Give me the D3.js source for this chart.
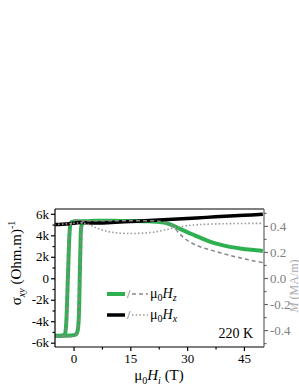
<html lang="en">
<head>
<meta charset="UTF-8">
<script src="https://d3js.org/d3.v7.min.js"></script>
<title>sigma xy</title>
<style>
  body { margin: 0; background: #fff; }
  text { font-family: "Liberation Serif", "DejaVu Serif", serif; }
  .axis text { font-size: 13px; }
</style>
<script>
// green: sigma_xy for mu0 Hz, ascending and descending branches (k Ohm^-1 m^-1)
var hzUpField = [-5, -1, 0.5, 0.9, 1.2, 1.4, 1.8, 2.1, 2.5, 3.5, 6, 10, 15, 20, 22, 24, 26, 28, 30, 32, 34, 36, 38, 41, 44, 47, 50];
var hzUpSigma = [-5.35, -5.33, -5.25, -5.1, -4.6, -3.5, 2.5, 4.9, 5.2, 5.3, 5.35, 5.35, 5.33, 5.3, 5.27, 5.18, 4.95, 4.62, 4.3, 4.0, 3.7, 3.42, 3.2, 2.95, 2.78, 2.65, 2.55];
var hzDownField = [3.5, 1, 0, -0.7, -1.0, -1.5, -2.0, -2.3, -2.8, -5];
var hzDownSigma = [5.3, 5.3, 5.28, 5.2, 4.5, 0, -4.5, -5.2, -5.33, -5.35];

// black: sigma_xy for mu0 Hx
var hxField = [-5, -3, -1, 0, 1, 2, 3, 5, 7, 10, 15, 20, 25, 30, 35, 40, 45, 50];
var hxSigma = [5.0, 5.03, 5.08, 5.12, 5.17, 5.2, 5.18, 5.15, 5.15, 5.2, 5.28, 5.37, 5.47, 5.57, 5.67, 5.77, 5.86, 5.95];

// dashed gray: M for Hz (MA/m)
var mzUpField = [-5, 0.5, 1.2, 1.4, 1.8, 2.1, 2.5, 5, 10, 15, 20, 23, 25, 26.5, 28, 30, 32.6, 35, 38, 41, 44, 47, 50];
var mzUp = [-0.445, -0.44, -0.38, -0.29, 0.2, 0.41, 0.435, 0.44, 0.44, 0.44, 0.44, 0.435, 0.42, 0.39, 0.34, 0.29, 0.25, 0.225, 0.2, 0.175, 0.155, 0.135, 0.118];
var mzDownField = [3, 0, -1.0, -1.5, -2.0, -2.5, -5];
var mzDown = [0.44, 0.44, 0.38, 0, -0.38, -0.44, -0.445];

// dotted gray: M for Hx (MA/m)
var mxField = [-5, 0, 2, 4, 6, 8, 10, 12, 15, 18, 21, 24, 27, 30, 33, 37, 42, 50];
var mx = [0.41, 0.42, 0.425, 0.41, 0.385, 0.365, 0.352, 0.345, 0.342, 0.344, 0.352, 0.368, 0.388, 0.402, 0.41, 0.415, 0.418, 0.42];

var xTicks = [0, 15, 30, 45];
var xMinor = [7.5, 22.5, 37.5];
var yTicks = [6, 4, 2, 0, -2, -4, -6];
var yTickLabels = ["6k", "4k", "2k", "0", "-2k", "-4k", "-6k"];
var yMinor = [5, 3, 1, -1, -3, -5];
var mTicks = [0.4, 0.2, 0.0, -0.2, -0.4];
var mTickLabels = ["0.4", "0.2", "0.0", "-0.2", "-0.4"];
var mMinor = [0.5, 0.3, 0.1, -0.1, -0.3, -0.5];

function zip(a, b) { return a.map(function(v, i) { return [v, b[i]]; }); }

function main() {
  var svg = d3.select("svg");
  var left = 55, right = 264, top = 209, bottom = 347;

  var x = d3.scaleLinear().domain([-4.9, 50.3]).range([left, right]);
  var y = d3.scaleLinear().domain([-6.4, 6.45]).range([bottom, top]);
  var yM = d3.scaleLinear().domain([-0.53, 0.53]).range([bottom, top]);

  var clip = svg.append("clipPath").attr("id", "clip");
  clip.append("rect").attr("x", left).attr("y", top).attr("width", right - left).attr("height", bottom - top);

  var plot = svg.append("g").attr("clip-path", "url(#clip)");
  var lineS = d3.line().x(function(d){ return x(d[0]); }).y(function(d){ return y(d[1]); }).curve(d3.curveCatmullRom.alpha(0.5));
  var lineM = d3.line().x(function(d){ return x(d[0]); }).y(function(d){ return yM(d[1]); }).curve(d3.curveCatmullRom.alpha(0.5));

  var green = "#2fb050";
  [zip(hzUpField, hzUpSigma), zip(hzDownField, hzDownSigma)].forEach(function(p){
    plot.append("path").attr("d", lineS(p)).attr("fill", "none").attr("stroke", green).attr("stroke-width", 4);
  });
  plot.append("path").attr("d", lineS(zip(hxField, hxSigma))).attr("fill", "none").attr("stroke", "#000").attr("stroke-width", 3.5);
  [zip(mzUpField, mzUp), zip(mzDownField, mzDown)].forEach(function(p){
    plot.append("path").attr("d", lineM(p)).attr("fill", "none").attr("stroke", "#888").attr("stroke-width", 1.5).attr("stroke-dasharray", "4,3");
  });
  plot.append("path").attr("d", lineM(zip(mxField, mx))).attr("fill", "none").attr("stroke", "#999").attr("stroke-width", 1.6).attr("stroke-dasharray", "1.5,2.2");

  // frame
  svg.append("line").attr("x1", left).attr("x2", right).attr("y1", top).attr("y2", top).attr("stroke", "#000").attr("stroke-width", 1.2);
  svg.append("line").attr("x1", left).attr("x2", left).attr("y1", top).attr("y2", bottom).attr("stroke", "#000").attr("stroke-width", 1.2);
  svg.append("line").attr("x1", left).attr("x2", right).attr("y1", bottom).attr("y2", bottom).attr("stroke", "#000").attr("stroke-width", 1.2);
  svg.append("line").attr("x1", right).attr("x2", right).attr("y1", top).attr("y2", bottom).attr("stroke", "#666").attr("stroke-width", 1.2);

  // bottom axis
  svg.append("g").attr("class", "axis").attr("transform", "translate(0," + bottom + ")")
    .call(d3.axisBottom(x).tickValues(xTicks).tickSize(4).tickSizeOuter(0).tickPadding(3));
  svg.append("g").attr("transform", "translate(0," + bottom + ")")
    .call(d3.axisBottom(x).tickValues(xMinor).tickSize(2.5).tickSizeOuter(0).tickFormat(""));

  // left axis
  svg.append("g").attr("class", "axis").attr("transform", "translate(" + left + ",0)")
    .call(d3.axisLeft(y).tickValues(yTicks).tickSize(4).tickSizeOuter(0).tickPadding(2)
      .tickFormat(function(d, i){ return yTickLabels[i]; }));
  svg.append("g").attr("transform", "translate(" + left + ",0)")
    .call(d3.axisLeft(y).tickValues(yMinor).tickSize(2.5).tickSizeOuter(0).tickFormat(""));

  // right axis
  var gm = svg.append("g").attr("class", "axis right").attr("transform", "translate(" + right + ",0)")
    .call(d3.axisRight(yM).tickValues(mTicks).tickSize(4).tickSizeOuter(0).tickPadding(2)
      .tickFormat(function(d, i){ return mTickLabels[i]; }));
  var gm2 = svg.append("g").attr("class", "right").attr("transform", "translate(" + right + ",0)")
    .call(d3.axisRight(yM).tickValues(mMinor).tickSize(2.5).tickSizeOuter(0).tickFormat(""));

  svg.selectAll(".domain").remove();
  svg.selectAll(".tick line").attr("stroke-width", 1.2);
  svg.selectAll(".axis text").attr("font-family", "Liberation Serif").attr("fill", "#000");
  svg.selectAll(".right .tick line").attr("stroke", "#666");
  gm.selectAll("text").attr("fill", "#808080");
  gm2.selectAll("line").attr("stroke", "#666");

  // axis titles
  var xl = svg.append("text").attr("x", 159).attr("y", 380).attr("text-anchor", "middle").attr("font-size", 15);
  xl.append("tspan").text("\u03bc");
  xl.append("tspan").attr("font-size", 10).attr("dy", 4).text("0");
  xl.append("tspan").attr("font-style", "italic").attr("dy", -4).text("H");
  xl.append("tspan").attr("font-style", "italic").attr("font-size", 10).attr("dy", 4).text("i");
  xl.append("tspan").attr("dy", -4).text(" (T)");

  var yl = svg.append("text").attr("transform", "translate(21,263) rotate(-90)").attr("text-anchor", "middle").attr("font-size", 15);
  yl.append("tspan").text("\u03c3");
  yl.append("tspan").attr("font-style", "italic").attr("font-size", 10).attr("dy", 4).text("xy");
  yl.append("tspan").attr("dy", -4).text(" (Ohm.m)");
  yl.append("tspan").attr("font-size", 10).attr("dy", -6).text("-1");

  var rl = svg.append("text").attr("transform", "translate(298,286) rotate(-90)").attr("text-anchor", "middle").attr("font-size", 12).attr("fill", "#aaa");
  rl.append("tspan").attr("font-style", "italic").text("M");
  rl.append("tspan").text(" (MA/m)");

  // legend
  var leg = [
    { y: 294, color: green, w: 4, dash: "4,3", lc: "#888", sub: "z" },
    { y: 315, color: "#000", w: 3.5, dash: "1.5,2.2", lc: "#999", sub: "x" }
  ];
  leg.forEach(function(l){
    svg.append("line").attr("x1", 107).attr("x2", 125).attr("y1", l.y).attr("y2", l.y).attr("stroke", l.color).attr("stroke-width", l.w);
    svg.append("text").attr("x", 127).attr("y", l.y + 4).attr("font-size", 12).attr("fill", "#555").text("/");
    svg.append("line").attr("x1", 132).attr("x2", 148).attr("y1", l.y).attr("y2", l.y).attr("stroke", l.lc).attr("stroke-width", 1.3).attr("stroke-dasharray", l.dash);
    var t = svg.append("text").attr("x", 150).attr("y", l.y + 4).attr("font-size", 14);
    t.append("tspan").text("\u03bc");
    t.append("tspan").attr("font-size", 10).attr("dy", 3).text("0");
    t.append("tspan").attr("font-style", "italic").attr("dy", -3).text("H");
    t.append("tspan").attr("font-style", "italic").attr("font-size", 10).attr("dy", 3).text(l.sub);
  });

  svg.append("text").attr("x", 253).attr("y", 338).attr("text-anchor", "end").attr("font-size", 14).text("220 K");
}
</script>
</head>
<body onload="main();">
<svg width="299" height="385"></svg>
</body>
</html>
